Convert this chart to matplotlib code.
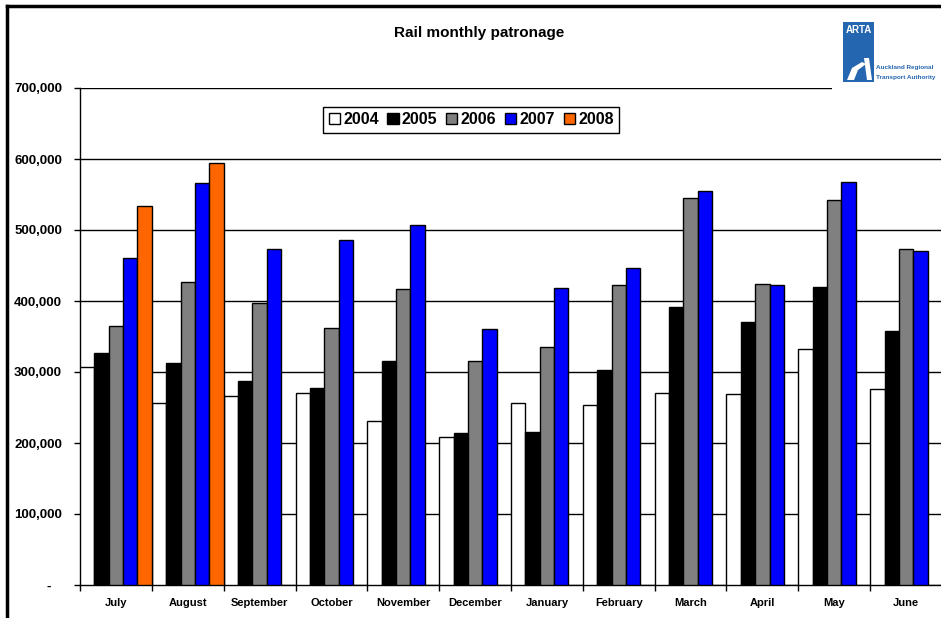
"""Rail monthly patronage — grouped bars by financial year (Jul-Jun)."""

import matplotlib
matplotlib.use("Agg")
import matplotlib.pyplot as plt
import numpy as np
from matplotlib.patches import Rectangle, Polygon
from matplotlib.lines import Line2D
from matplotlib.ticker import FuncFormatter, FixedLocator

plt.rcParams["font.family"] = ["Liberation Sans", "DejaVu Sans"]
plt.rcParams["font.weight"] = "bold"

months = ["July", "August", "September", "October", "November", "December",
          "January", "February", "March", "April", "May", "June"]
years = ["2004", "2005", "2006", "2007", "2008"]
colors = ["#FFFFFF", "#000000", "#808080", "#0000FF", "#FF6600"]

y2004 = [307000, 256000, 266000, 270000, 231000, 208000, 256000, 254000, 270000, 269000, 332000, 276000]
y2005 = [327000, 313000, 287000, 277000, 315000, 214000, 215000, 303000, 392000, 370000, 420000, 358000]
y2006 = [365000, 427000, 397000, 362000, 417000, 315000, 335000, 423000, 545000, 424000, 542000, 473000]
y2007 = [461000, 566000, 473000, 486000, 507000, 361000, 418000, 447000, 555000, 423000, 568000, 471000]
y2008 = [534000, 594000]

series = [y2004, y2005, y2006, y2007, y2008]

fig = plt.figure(figsize=(9.41, 6.18), dpi=100)
W, H = 941, 618
ax = fig.add_axes([80 / W, (H - 585) / H, 862 / W, 497 / H])

x = np.arange(len(months))
bw = 0.2
for k, (vals, col) in enumerate(zip(series, colors)):
    xs = x[:len(vals)] + (k - 2) * bw
    ax.bar(xs, vals, width=bw, color=col, edgecolor="black", linewidth=1.0,
           label=years[k], zorder=3)

ax.set_xlim(-0.5, 11.5)
ax.set_ylim(0, 700000)
ax.set_axisbelow(True)
ax.yaxis.grid(True, color="black", linewidth=1.0)
ax.set_yticks(np.arange(0, 700001, 100000))
ax.yaxis.set_major_formatter(FuncFormatter(lambda v, p: "-   " if v == 0 else f"{v:,.0f}"))
ax.tick_params(axis="y", direction="out", length=4, width=1, labelsize=9.5, pad=9)

ax.set_xticks(x)
ax.set_xticklabels(months)
ax.xaxis.set_minor_locator(FixedLocator(np.arange(-0.5, 12, 1)))
ax.tick_params(axis="x", which="major", length=0, labelsize=8, pad=9.5)
ax.tick_params(axis="x", which="minor", direction="out", length=4, width=1)

for side in ["top", "right"]:
    ax.spines[side].set_visible(False)
for side in ["left", "bottom"]:
    ax.spines[side].set_linewidth(1.0)

leg = ax.legend(loc="upper left", bbox_to_anchor=(0.282, 0.962), ncol=5,
                frameon=True, fancybox=False, framealpha=1, edgecolor="black",
                prop={"weight": "bold", "size": 11.5}, handlelength=0.7,
                handleheight=0.7, handletextpad=0.2, columnspacing=0.55,
                borderpad=0.35, borderaxespad=0)
leg.get_frame().set_linewidth(1.0)

fig.text(479.5 / W, 1 - 33 / H, "Rail monthly patronage", ha="center", va="center",
         fontsize=11, fontweight="bold")

# chart frame (left and top edges)
fig.add_artist(Line2D([7 / W, 7 / W], [0, 1 - 6 / H], color="black", linewidth=2.5,
                      transform=fig.transFigure))
fig.add_artist(Line2D([7 / W, 1], [1 - 6 / H, 1 - 6 / H], color="black", linewidth=2.5,
                      transform=fig.transFigure))

# logo
def fx(px):
    return px / W


def fy(py):
    return 1 - py / H


fig.add_artist(Rectangle((fx(832), fy(96)), fx(109), 84 / H, facecolor="white",
                         edgecolor="none", transform=fig.transFigure, zorder=5))
fig.add_artist(Rectangle((fx(843), fy(82)), fx(31), 60 / H, facecolor="#2566b0",
                         edgecolor="none", transform=fig.transFigure, zorder=6))
fig.text(fx(858.5), fy(30), "ARTA", ha="center", va="center", color="white",
         fontsize=7, fontweight="bold", zorder=7)
fig.add_artist(Polygon([(fx(847), fy(80)), (fx(852), fy(68)), (fx(862), fy(62)),
                        (fx(866), fy(64)), (fx(858), fy(70)), (fx(854), fy(80))],
                       closed=True, facecolor="white", edgecolor="none",
                       transform=fig.transFigure, zorder=7))
fig.add_artist(Polygon([(fx(864), fy(58)), (fx(869), fy(58)), (fx(872), fy(80)),
                        (fx(867), fy(80))],
                       closed=True, facecolor="white", edgecolor="none",
                       transform=fig.transFigure, zorder=7))
fig.text(fx(876), fy(67), "Auckland Regional", ha="left", va="center", color="#2566b0",
         fontsize=4.6, fontweight="bold", zorder=7)
fig.text(fx(876), fy(77), "Transport Authority", ha="left", va="center", color="#2566b0",
         fontsize=4.6, fontweight="bold", zorder=7)

fig.savefig("out.png", dpi=100)
